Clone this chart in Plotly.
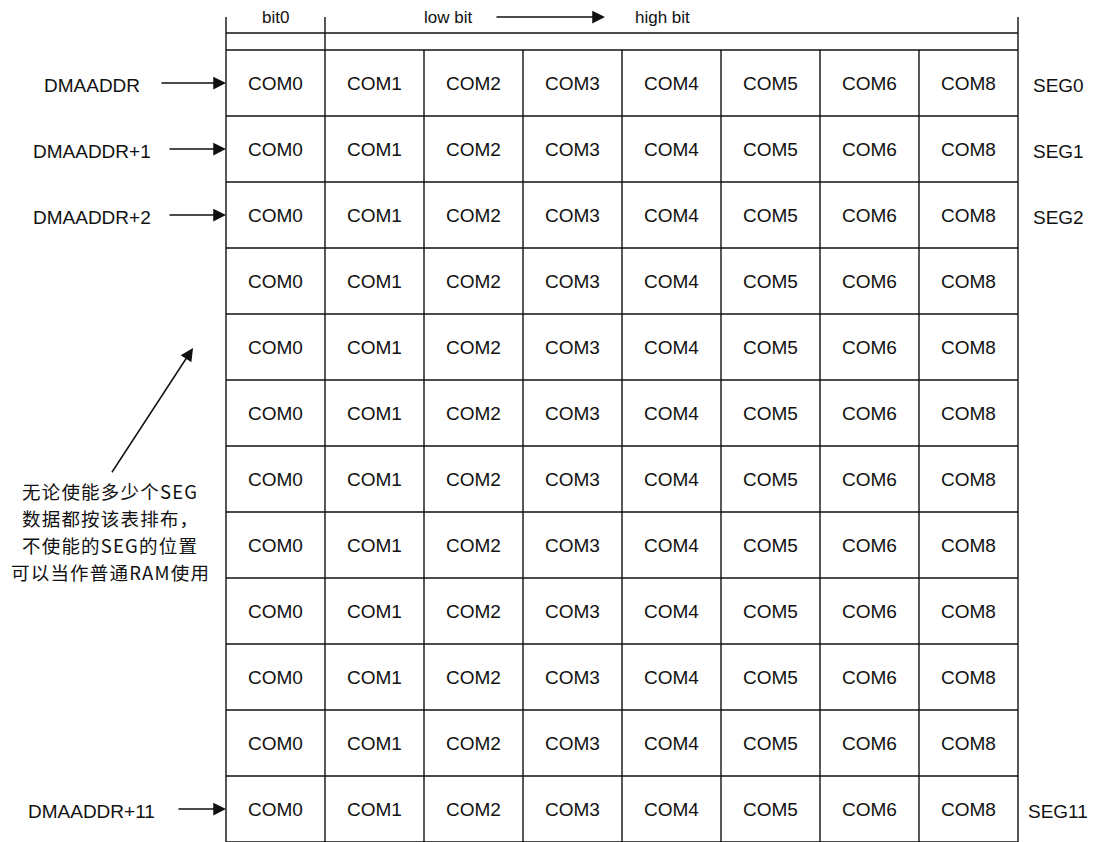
import plotly.graph_objects as go

# ---- data ----
com_labels = ["COM0", "COM1", "COM2", "COM3", "COM4", "COM5", "COM6", "COM8"]
n_rows = 12
addr_rows = [0, 1, 2, 11]
addr_labels = ["DMAADDR", "DMAADDR+1", "DMAADDR+2", "DMAADDR+11"]
seg_labels = ["SEG0", "SEG1", "SEG2", "SEG11"]
header_bit0 = "bit0"
header_low = "low bit"
header_high = "high bit"
note_lines = ["无论使能多少个SEG", "数据都按该表排布，", "不使能的SEG的位置", "可以当作普通RAM使用"]

n_cols = len(com_labels)
LINE = dict(color="#111111", width=1.4)
FONT = dict(family="Liberation Sans, Arial, sans-serif", size=19, color="#111111")
DY = 0.035  # small downward text offset (in row units)

fig = go.Figure()

# grid lines
gx, gy = [], []
for r in range(n_rows + 1):
    gx += [0, n_cols, None]
    gy += [r, r, None]
for c in range(n_cols + 1):
    gx += [c, c, None]
    gy += [0, n_rows, None]
# header
for c in [0, 1, n_cols]:
    gx += [c, c, None]
    gy += [-0.5, 0, None]
gx += [0, n_cols, None]
gy += [-0.2576, -0.2576, None]
fig.add_trace(go.Scatter(x=gx, y=gy, mode="lines", line=LINE, hoverinfo="skip", showlegend=False))

# cell texts
tx, ty, tt = [], [], []
for r in range(n_rows):
    for c, lab in enumerate(com_labels):
        tx.append(c + 0.5)
        ty.append(r + 0.5 + DY)
        tt.append(lab)
fig.add_trace(go.Scatter(x=tx, y=ty, text=tt, mode="text", textfont=FONT,
                         textposition="middle center", hoverinfo="skip", showlegend=False))

ARROW = dict(showarrow=True, arrowhead=2, arrowsize=1.7, arrowwidth=1.5,
             arrowcolor="#111111", standoff=0, text="", axref="x", ayref="y",
             xref="x", yref="y")

# row address labels with arrows, segment labels
tail = {0: -0.667, 1: -0.586, 2: -0.586, 11: -0.495}
for r, a, s in zip(addr_rows, addr_labels, seg_labels):
    fig.add_annotation(x=-1.354, y=r + 0.5 + DY, text=a, showarrow=False, font=FONT,
                       xref="x", yref="y")
    fig.add_annotation(x=8.404, y=r + 0.5 + DY, text=s, showarrow=False, font=FONT,
                       xref="x", yref="y")
    fig.add_annotation(x=0, y=r + 0.5, ax=tail[r], ay=r + 0.5, **ARROW)

# header texts & arrow
hy = -0.49
fig.add_annotation(x=0.495, y=hy, text=header_bit0, showarrow=False, font=dict(FONT, size=17))
fig.add_annotation(x=2.242, y=hy, text=header_low, showarrow=False, font=dict(FONT, size=17))
fig.add_annotation(x=4.414, y=hy, text=header_high, showarrow=False, font=dict(FONT, size=17))
fig.add_annotation(x=3.828, y=-0.5, ax=2.717, ay=-0.5, **ARROW)

# note (one annotation per line) with arrow
note_font = dict(family="Noto Sans CJK SC", size=18.5, color="#111111")
n_note = len(note_lines)
for i, line in enumerate(note_lines):
    fig.add_annotation(x=-1.17, y=7.295 + (i - (n_note - 1) / 2) * 0.41,
                       text='<span style="letter-spacing:1.2px">' + line + "</span>",
                       showarrow=False, font=note_font, xref="x", yref="y", borderpad=0)
fig.add_annotation(x=-0.333, y=4.515, ax=-1.162, ay=6.42, **ARROW)

fig.update_layout(
    width=1094, height=842,
    margin=dict(l=0, r=0, t=0, b=0),
    paper_bgcolor="white", plot_bgcolor="white",
    xaxis=dict(range=[-226 / 99, (1094 - 226) / 99], visible=False, fixedrange=True),
    yaxis=dict(range=[(842 - 50) / 66, -50 / 66], visible=False, fixedrange=True),
    showlegend=False,
)

fig.write_html("out.html", post_script="document.body.style.margin='0';document.body.style.overflow='hidden';",
               config={"displayModeBar": False})
